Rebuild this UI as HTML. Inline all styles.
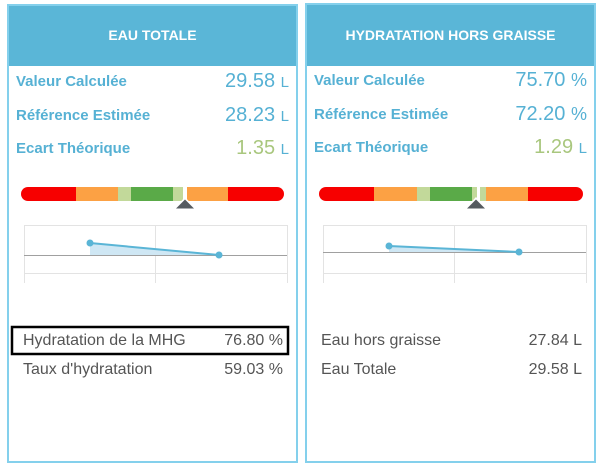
<!DOCTYPE html>
<html>
<head>
<meta charset="utf-8">
<style>
html,body{margin:0;padding:0;background:#fff;}
body{width:603px;height:469px;position:relative;overflow:hidden;font-family:"Liberation Sans",sans-serif;}
.panel{position:absolute;border:2px solid #84d0ec;box-sizing:border-box;background:transparent;}
.hdr{position:absolute;left:0;right:0;top:0;height:60px;background:#5ab6d7;color:#fff;font-weight:bold;font-size:14px;text-align:center;line-height:14px;}
.hdr span{position:absolute;left:0;right:0;top:22px;}
.a{position:absolute;white-space:nowrap;}
.lbl{font-weight:bold;font-size:15px;line-height:15px;color:#56b1d4;}
.val{font-size:20px;line-height:20px;color:#56b1d4;text-align:right;}
.val small{font-size:15px;}
.g{color:#a9c77e;}
.bt{font-size:16px;line-height:16px;color:#555;}
</style>
</head>
<body>

<!-- PANELS -->
<div class="panel" style="left:7px;top:4px;width:291px;height:459px;">
  <div class="hdr"><span>EAU TOTALE</span></div>
</div>
<div class="panel" style="left:305px;top:3px;width:291px;height:460px;">
  <div class="hdr" style="height:61px;"><span style="top:23px;">HYDRATATION HORS GRAISSE</span></div>
</div>

<svg class="a" style="left:0;top:0" width="603" height="469">
  <defs>
    <clipPath id="cl"><rect x="21" y="187" width="263" height="14" rx="7"/></clipPath>
    <clipPath id="cr"><rect x="319" y="187" width="264" height="14" rx="7"/></clipPath>
  </defs>
  <!-- left gauge -->
  <g clip-path="url(#cl)">
    <rect x="21" y="187" width="55" height="14" fill="#f70000"/>
    <rect x="76" y="187" width="42" height="14" fill="#fca144"/>
    <rect x="118" y="187" width="13" height="14" fill="#c2d99a"/>
    <rect x="131" y="187" width="42" height="14" fill="#5aaa48"/>
    <rect x="173" y="187" width="10" height="14" fill="#c2d99a"/>
    <rect x="187" y="187" width="41" height="14" fill="#fca144"/>
    <rect x="228" y="187" width="56" height="14" fill="#f70000"/>
  </g>
  <polygon points="185,197 197,210 173,210" fill="#fff"/>
  <polygon points="185,199.5 194,208.5 176,208.5" fill="#555b60"/>

  <!-- left chart -->
  <g stroke="#e3e3e3" stroke-width="1" fill="none">
    <line x1="24" y1="225.5" x2="287" y2="225.5"/>
    <line x1="24" y1="273.5" x2="287" y2="273.5"/>
    <line x1="24.5" y1="225" x2="24.5" y2="283"/>
    <line x1="155.5" y1="225" x2="155.5" y2="283"/>
    <line x1="287.5" y1="225" x2="287.5" y2="283"/>
  </g>
  <polygon points="90,243 219,255 90,255" fill="#cfe7f4"/>
  <line x1="24" y1="255.5" x2="287" y2="255.5" stroke="#a0a0a0" stroke-width="1"/>
  <line x1="90" y1="243" x2="219" y2="255" stroke="#5ab5d6" stroke-width="2"/>
  <circle cx="90" cy="243" r="3.5" fill="#5ab5d6"/>
  <circle cx="219" cy="255" r="3.5" fill="#5ab5d6"/>

  <!-- left highlight box -->
  <rect x="12" y="327" width="276" height="27" fill="none" stroke="#000" stroke-width="2.5"/>

  <!-- right gauge -->
  <g clip-path="url(#cr)">
    <rect x="319" y="187" width="55" height="14" fill="#f70000"/>
    <rect x="374" y="187" width="43" height="14" fill="#fca144"/>
    <rect x="417" y="187" width="13" height="14" fill="#c2d99a"/>
    <rect x="430" y="187" width="42" height="14" fill="#5aaa48"/>
    <rect x="472" y="187" width="5" height="14" fill="#c2d99a"/>
    <rect x="480" y="187" width="6" height="14" fill="#c2d99a"/>
    <rect x="486" y="187" width="42" height="14" fill="#fca144"/>
    <rect x="528" y="187" width="55" height="14" fill="#f70000"/>
  </g>
  <polygon points="476,197 488,210 464,210" fill="#fff"/>
  <polygon points="476,199.5 485,208.5 467,208.5" fill="#555b60"/>

  <!-- right chart -->
  <g stroke="#e3e3e3" stroke-width="1" fill="none">
    <line x1="323" y1="225.5" x2="586" y2="225.5"/>
    <line x1="323" y1="273.5" x2="586" y2="273.5"/>
    <line x1="323.5" y1="225" x2="323.5" y2="283"/>
    <line x1="454.5" y1="225" x2="454.5" y2="283"/>
    <line x1="586.5" y1="225" x2="586.5" y2="283"/>
  </g>
  <polygon points="389,246 519,252 389,252" fill="#cfe7f4"/>
  <line x1="323" y1="252.5" x2="586" y2="252.5" stroke="#a0a0a0" stroke-width="1"/>
  <line x1="389" y1="246" x2="519" y2="252" stroke="#5ab5d6" stroke-width="2"/>
  <circle cx="389" cy="246" r="3.5" fill="#5ab5d6"/>
  <circle cx="519" cy="252" r="3.5" fill="#5ab5d6"/>
</svg>

<!-- LEFT TEXT -->
<div class="a lbl" style="left:16px;top:74px;">Valeur Calculée</div>
<div class="a val" style="right:314px;top:71px;">29.58 <small>L</small></div>
<div class="a lbl" style="left:16px;top:108px;">Référence Estimée</div>
<div class="a val" style="right:314px;top:105px;">28.23 <small>L</small></div>
<div class="a lbl" style="left:16px;top:141px;">Ecart Théorique</div>
<div class="a val g" style="right:314px;top:138px;">1.35 <small style="color:#56b1d4">L</small></div>

<div class="a bt" style="left:23px;top:333px;">Hydratation de la MHG</div>
<div class="a bt" style="right:320px;top:333px;">76.80 %</div>
<div class="a bt" style="left:23px;top:362px;">Taux d'hydratation</div>
<div class="a bt" style="right:320px;top:362px;">59.03 %</div>

<!-- RIGHT TEXT -->
<div class="a lbl" style="left:314px;top:73px;">Valeur Calculée</div>
<div class="a val" style="right:16px;top:70px;">75.70 <small style="font-size:18px">%</small></div>
<div class="a lbl" style="left:314px;top:107px;">Référence Estimée</div>
<div class="a val" style="right:16px;top:104px;">72.20 <small style="font-size:18px">%</small></div>
<div class="a lbl" style="left:314px;top:140px;">Ecart Théorique</div>
<div class="a val g" style="right:16px;top:137px;">1.29 <small style="color:#56b1d4">L</small></div>

<div class="a bt" style="left:321px;top:333px;">Eau hors graisse</div>
<div class="a bt" style="right:21px;top:333px;">27.84 L</div>
<div class="a bt" style="left:321px;top:362px;">Eau Totale</div>
<div class="a bt" style="right:21px;top:362px;">29.58 L</div>

</body>
</html>
